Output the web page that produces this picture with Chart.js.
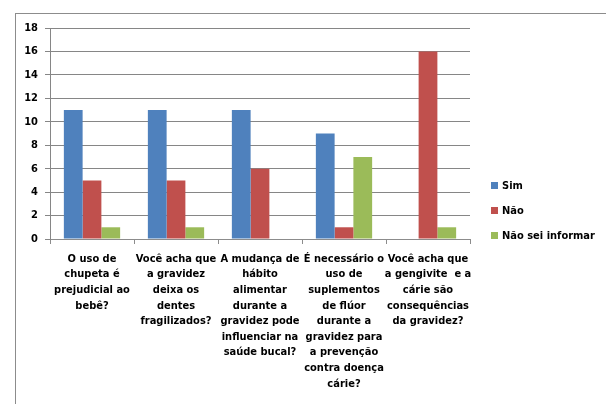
<!DOCTYPE html>
<html>
<head>
<meta charset="utf-8">
<script src="https://cdn.jsdelivr.net/npm/chart.js@4"></script>
<style>
  body { margin: 0; background: #fff; }
  #wrap { position: relative; width: 606px; height: 404px; overflow: hidden; }
  #frame { position: absolute; left: 15px; top: 13px; width: 620px; height: 420px; border: 1px solid #8c8c8c; box-sizing: border-box; }
  canvas { position: absolute; left: 0; top: 0; }
  .leg { position: absolute; left: 491px; font: bold 11px "Liberation Sans Narrow", "DejaVu Sans Condensed", sans-serif; color: #000; line-height: 12px; }
  .leg span { display: inline-block; width: 7px; height: 7px; margin-right: 4px; vertical-align: 0px; }
</style>
</head>
<body>
<div id="wrap">
  <div id="frame"></div>
  <canvas id="c" width="606" height="404"></canvas>
  <div id="legend"></div>
</div>
<script>
// categories (multi-line labels as in the original)
const categories = [
    ["O uso de", "chupeta é", "prejudicial ao", "bebê?"],
    ["Você acha que", "a gravidez", "deixa os", "dentes", "fragilizados?"],
    ["A mudança de", "hábito", "alimentar", "durante a", "gravidez pode", "influenciar na", "saúde bucal?"],
    ["É necessário o", "uso de", "suplementos", "de flúor", "durante a", "gravidez para", "a prevenção", "contra doença", "cárie?"],
    ["Você acha que", "a gengivite  e a", "cárie são", "consequências", "da gravidez?"]
];
const seriesNames = ["Sim", "Não", "Não sei informar"];
const sim = [11, 11, 11, 9, 0];
const nao = [5, 5, 6, 1, 16];
const naoSei = [1, 1, 0, 7, 1];
const yTicks = [0, 2, 4, 6, 8, 10, 12, 14, 16, 18];

const colors = ["#4F81BD", "#C0504D", "#9BBB59"];
const fontFamily = '"Liberation Sans Narrow", "DejaVu Sans Condensed", sans-serif';

const ctx = document.getElementById("c").getContext("2d");
new Chart(ctx, {
    type: "bar",
    data: {
        labels: categories,
        datasets: [sim, nao, naoSei].map((d, i) => ({
            label: seriesNames[i],
            data: d,
            backgroundColor: colors[i],
            borderWidth: 0,
            categoryPercentage: 0.67,
            barPercentage: 1
        }))
    },
    options: {
        responsive: false,
        animation: false,
        layout: { padding: { top: 28, right: 136, left: 0, bottom: 0 } },
        plugins: {
            legend: { display: false },
            tooltip: { enabled: false }
        },
        scales: {
            x: {
                afterFit: (scale) => { scale.height = 165; },
                grid: {
                    offset: true,
                    drawOnChartArea: false,
                    drawTicks: true,
                    tickLength: 5,
                    color: "#8c8c8c"
                },
                border: { color: "#8c8c8c" },
                ticks: {
                    color: "#000",
                    maxRotation: 0,
                    autoSkip: false,
                    padding: 7,
                    font: { family: fontFamily, size: 11, weight: "bold", lineHeight: 1.42 }
                }
            },
            y: {
                min: 0,
                max: 18,
                afterFit: (scale) => { scale.width = 50; },
                afterBuildTicks: (scale) => { scale.ticks = yTicks.map(v => ({ value: v })); },
                grid: { color: "#868686", tickLength: 5 },
                border: { color: "#868686" },
                ticks: {
                    color: "#000",
                    padding: 7,
                    font: { family: fontFamily, size: 11, weight: "bold" }
                }
            }
        }
    }
});

// legend on the right, built from the series names
const legendEl = document.getElementById("legend");
const legendY = [180, 205, 230];
seriesNames.forEach((name, i) => {
    const div = document.createElement("div");
    div.className = "leg";
    div.style.top = legendY[i] + "px";
    div.innerHTML = `<span style="background:${colors[i]}"></span>`;
    div.appendChild(document.createTextNode(name));
    legendEl.appendChild(div);
});
</script>
</body>
</html>
